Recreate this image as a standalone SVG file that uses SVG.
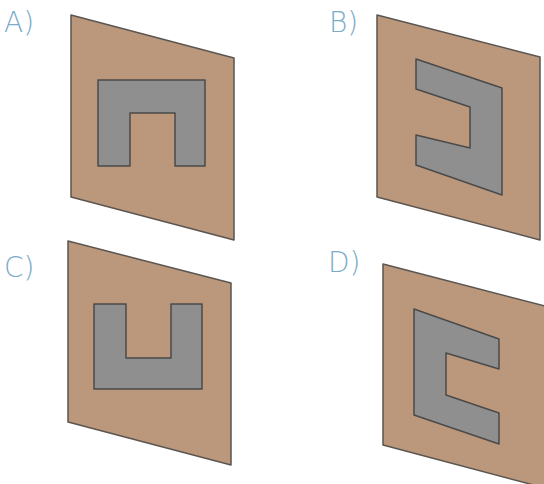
<svg xmlns="http://www.w3.org/2000/svg" width="544" height="484" viewBox="0 0 544 484">
<style>
.plate{fill:#bb987c;stroke:#5a5550;stroke-width:1.5;stroke-linejoin:round}
.shape{fill:#8f8f8f;stroke:#4a4a4a;stroke-width:1.5;stroke-linejoin:round}
.lbl{font-family:"DejaVu Sans","Liberation Sans",Arial,sans-serif;font-weight:200;font-size:28px;fill:#7aabc8}
</style>
<rect width="544" height="484" fill="#ffffff"/>
<g id="optA">
<text class="lbl" x="4" y="32">A)</text>
<polygon class="plate" points="71,15 234,58 234,240 71,197"/>
<path class="shape" d="M98,80 H205 V166 H175 V113 H130 V166 H98 Z"/>
</g>
<g id="optB">
<text class="lbl" x="329" y="32">B)</text>
<polygon class="plate" points="377,15 540,57 540,240 377,197"/>
<path class="shape" d="M416,59 L502,88 L502,195 L416,165 L416,135 L470,148 L470,107 L416,89 Z"/>
</g>
<g id="optC">
<text class="lbl" x="4" y="277">C)</text>
<polygon class="plate" points="68,241 231,283 231,465 68,422"/>
<path class="shape" d="M94,304 H126 V358 H171 V304 H202 V389 H94 Z"/>
</g>
<g id="optD">
<text class="lbl" x="328" y="272">D)</text>
<polygon class="plate" points="383,264 545,306 545,488 383,445"/>
<path class="shape" d="M414,309 L499,339 L499,369 L446,353 L446,395 L499,413 L499,444 L414,415 Z"/>
</g>
</svg>
